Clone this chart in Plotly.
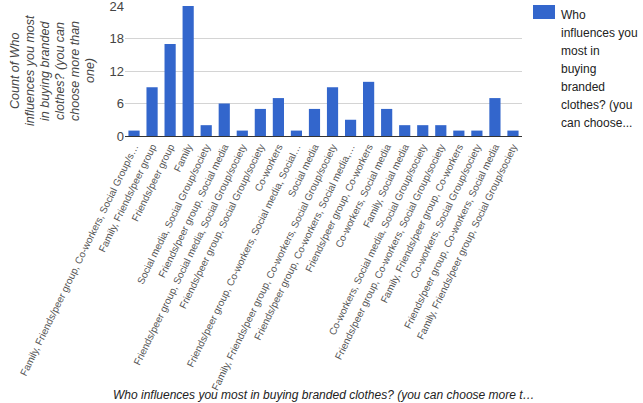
import plotly.graph_objects as go

categories = [
    "Family, Friends/peer group, Co-workers, Social Group/s…",
    "Family, Friends/peer group",
    "Friends/peer group",
    "Family",
    "Social media, Social Group/society",
    "Friends/peer group, Social media",
    "Friends/peer group, Social media, Social Group/society",
    "Friends/peer group, Social Group/society",
    "Co-workers",
    "Friends/peer group, Co-workers, Social media, Social…",
    "Social media",
    "Family, Friends/peer group, Co-workers, Social Group/society",
    "Friends/peer group, Co-workers, Social media,…",
    "Friends/peer group, Co-workers",
    "Co-workers, Social media",
    "Family, Social media",
    "Co-workers, Social media, Social Group/society",
    "Friends/peer group, Co-workers, Social Group/society",
    "Family, Friends/peer group, Co-workers",
    "Co-workers, Social Group/society",
    "Friends/peer group, Co-workers, Social media",
    "Family, Friends/peer group, Social Group/society",
]
counts = [1, 9, 17, 24, 2, 6, 1, 5, 7, 1, 5, 9, 3, 10, 5, 2, 2, 2, 1, 1, 7, 1]
y_ticks = [0, 6, 12, 18, 24]
legend_lines = ["Who", "influences you", "most in", "buying", "branded",
                "clothes? (you", "can choose..."]
y_title_lines = ["Count of Who", "influences you most", "in buying branded",
                 "clothes? (you can", "choose more than", "one)"]
x_title = "Who influences you most in buying branded clothes? (you can choose more t…"

FONT = "Arial, Liberation Sans, sans-serif"
BLUE = "#3366cc"

fig = go.Figure(go.Bar(x=list(range(len(categories))), y=counts,
                       marker=dict(color=BLUE, line=dict(width=0)),
                       showlegend=False))

fig.update_layout(
    width=643, height=403,
    margin=dict(l=125, r=121, t=6, b=267, autoexpand=False),
    paper_bgcolor="white", plot_bgcolor="white",
    bargap=0.38,
    font=dict(family=FONT, color="#444"),
    showlegend=False,
)
fig.update_xaxes(
    tickmode="array", tickvals=list(range(len(categories))), ticktext=categories,
    tickangle=-64, tickfont=dict(size=10, color="#555"),
    range=[-0.5, len(categories) - 0.5],
    showgrid=False, showline=True, linecolor="#333", linewidth=1,
    ticks="", automargin=False,
)
fig.update_yaxes(
    range=[0, 24], tickmode="array", tickvals=y_ticks,
    tickfont=dict(size=13, color="#444"),
    showgrid=True, gridcolor="#d4d4d4", gridwidth=1,
    zeroline=True, zerolinecolor="#333", zerolinewidth=1,
    ticks="", ticklen=0, automargin=False, ticklabeloverflow="allow",
)

# legend square
fig.add_shape(type="rect", xref="paper", yref="paper",
              xsizemode="pixel", ysizemode="pixel", xanchor=1, yanchor=1,
              x0=11, x1=33, y0=-13, y1=1,
              fillcolor=BLUE, line=dict(width=0))
for i, t in enumerate(legend_lines):
    fig.add_annotation(text=t, xref="paper", yref="paper", x=1, y=1,
                       xanchor="left", yanchor="top", xshift=37, yshift=-18 * i,
                       showarrow=False, font=dict(size=12, color="#222", family=FONT))

# y title, one rotated line each, 15px apart
for i, t in enumerate(y_title_lines):
    fig.add_annotation(text=t, xref="paper", yref="paper",
                       x=0, y=0.5, xanchor="center", yanchor="middle",
                       xshift=-125 + 15 + 15 * i,
                       textangle=-90, showarrow=False,
                       font=dict(size=12.5, color="#444", family=FONT, style="italic"))
# x title
fig.add_annotation(text=x_title, xref="paper", yref="paper",
                   x=0.5, y=0, xanchor="center", yanchor="middle", yshift=-259,
                   showarrow=False,
                   font=dict(size=12, color="#222", family=FONT, style="italic"))

fig.write_html("out.html")
